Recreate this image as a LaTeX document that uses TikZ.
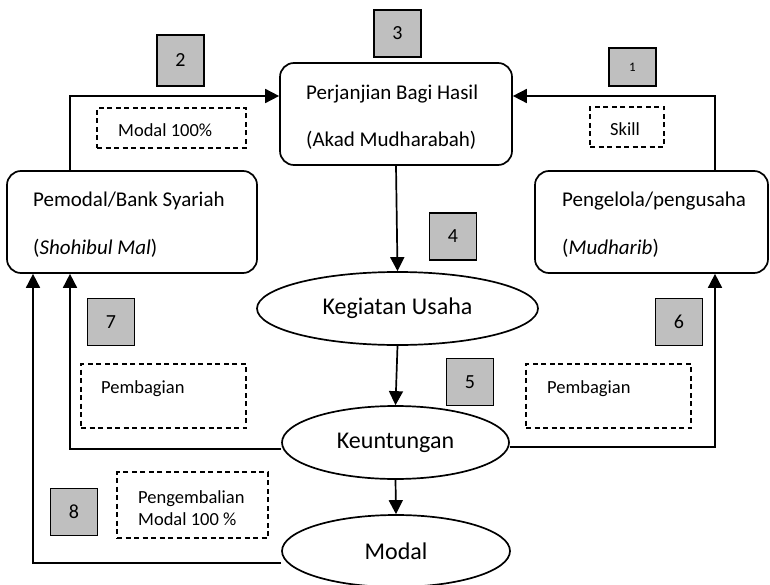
\documentclass[tikz,border=0pt]{standalone}
\usepackage{fontspec}
\setmainfont{Carlito}
\usetikzlibrary{arrows.meta,shapes.geometric}
\begin{document}
\begin{tikzpicture}[x=1pt,y=-1pt,
  rbox/.style={draw,line width=1.7pt,rounded corners=14pt},
  num/.style={draw,line width=1.7pt,fill=black!25,minimum width=47pt,minimum height=47pt,inner sep=0pt,font=\fontsize{20}{24}\selectfont},
  dbox/.style={draw,dashed,line width=1.1pt,dash pattern=on 5pt off 3.5pt},
  ell/.style={draw,ellipse,line width=1.7pt,inner sep=0pt,font=\fontsize{24}{28}\selectfont},
  conn/.style={line width=1.7pt,-{Triangle[length=14pt,width=14pt]}},
  lbl/.style={anchor=west,inner sep=0pt,font=\fontsize{21}{25}\selectfont},
  small/.style={inner sep=0pt,anchor=west,font=\fontsize{18.5}{22}\selectfont}]
\useasboundingbox (0,0) rectangle (770,585);
% boxes
\node[rbox,minimum width=232pt,minimum height=102pt] (perj) at (396,114) {};
\node[rbox,minimum width=250pt,minimum height=102pt] (pem) at (132,222) {};
\node[rbox,minimum width=233pt,minimum height=102pt] (peng) at (651.5,222) {};
\node[lbl] (tperj1) at (306,94) {Perjanjian Bagi Hasil};
\node[lbl] (tperj2) at (306,140) {(Akad Mudharabah)};
\node[lbl] (tpem1) at (33,201) {Pemodal/Bank Syariah};
\node[lbl] (tpem2) at (33,248) {(\textit{Shohibul Mal})};
\node[lbl] (tpeng1) at (562,201) {Pengelola/pengusaha};
\node[lbl] (tpeng2) at (562,248) {(\textit{Mudharib})};
% ellipses
\node[ell,minimum width=281pt,minimum height=73pt] (keg) at (397.5,308.5) {Kegiatan Usaha};
\node[ell,minimum width=227pt,minimum height=73pt] (keu) at (395.5,442.5) {Keuntungan};
\node[ell,minimum width=228pt,minimum height=72pt] (mod) at (396,551) {Modal};
% number boxes
\node[num] (n3) at (397.5,33.5) {3};
\node[num,minimum height=51pt] (n2) at (180.5,60.5) {2};
\node[num,minimum height=38pt] (n1) at (632.5,67) {\fontsize{13}{15}\selectfont 1};
\node[num] (n4) at (453,236.5) {4};
\node[num] (n7) at (111,322) {7};
\node[num] (n6) at (679,322) {6};
\node[num] (n5) at (470,382) {5};
\node[num] (n8) at (74,512) {8};
% dashed boxes
\node[dbox,minimum width=149pt,minimum height=40pt] (d2) at (171.5,128) {};
\node[small] (t2) at (118,130) {Modal 100\%};
\node[dbox,minimum width=74pt,minimum height=40pt] (d1) at (627,127) {};
\node[small] (t1) at (610,129) {Skill};
\node[dbox,minimum width=165pt,minimum height=64pt] (d7) at (163.5,396) {};
\node[small] (t7) at (101,389) {Pembagian};
\node[dbox,minimum width=165pt,minimum height=64pt] (d6) at (608.5,396) {};
\node[small] (t6) at (547,389) {Pembagian};
\node[dbox,minimum width=151pt,minimum height=66pt] (d8) at (192.5,505) {};
\node[small,align=left] (t8) at (138,508) {Pengembalian\\Modal 100 \%};
% coordinates
\coordinate (c2a) at (70,171);
\coordinate (c2b) at (70,96);
\coordinate (c1a) at (715,171);
\coordinate (c1b) at (715,96);
\coordinate (c7) at (70,449);
\coordinate (c8) at (33,563);
\coordinate (c6) at (715,447);
% connectors
\draw[conn] (c2a) -- (c2b) -- (c2b -| perj.west);
\draw[conn] (c1a) -- (c1b) -- (c1b -| perj.east);
\draw[conn] (perj.south) -- (keg.north);
\draw[conn] (keg.south) -- (keu.north);
\draw[conn] (keu.south) -- (mod.north);
\draw[conn] (keu.west |- c7) -- (c7) -- (c7 |- pem.south);
\draw[conn] (mod.west |- c8) -- (c8) -- (c8 |- pem.south);
\draw[conn] (keu.east |- c6) -- (c6) -- (c6 |- peng.south);
\end{tikzpicture}
\end{document}
